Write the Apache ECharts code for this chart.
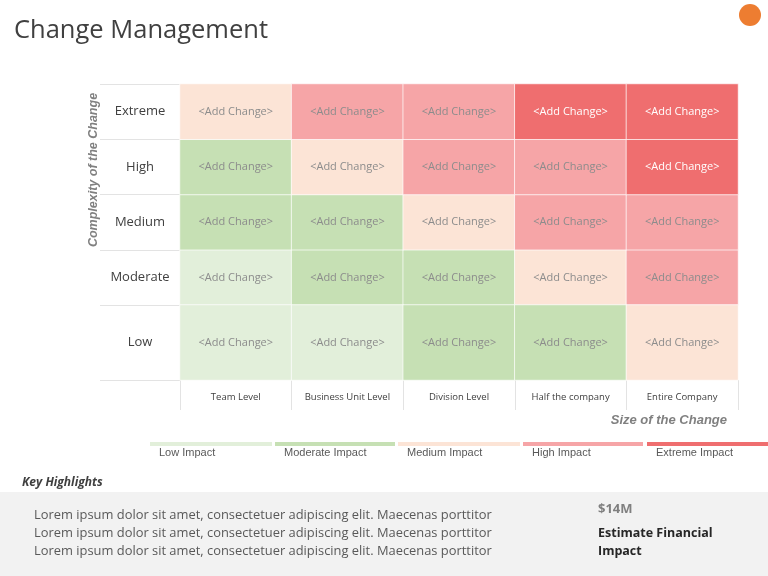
<!DOCTYPE html>
<html>
<head>
<meta charset="utf-8">
<script src="https://cdn.jsdelivr.net/npm/echarts@6/dist/echarts.min.js"></script>
<style>
html,body{margin:0;padding:0;background:#fff;}
#chart{width:768px;height:576px;}
</style>
</head>
<body>
<div id="chart"></div>
<script>
// ---- data ----
var sizeCategories = ['Team Level', 'Business Unit Level', 'Division Level', 'Half the company', 'Entire Company'];
var complexityTop = ['Moderate', 'Medium', 'High', 'Extreme']; // bottom -> top
var complexityLow = ['Low'];
// impact level per cell: 1 Low, 2 Moderate, 3 Medium, 4 High, 5 Extreme
var rowExtreme  = [3, 4, 4, 5, 5];
var rowHigh     = [2, 3, 4, 4, 5];
var rowMedium   = [2, 2, 3, 4, 4];
var rowModerate = [1, 2, 2, 3, 4];
var rowLow      = [1, 1, 2, 2, 3];
var impactLevels = ['Low Impact', 'Moderate Impact', 'Medium Impact', 'High Impact', 'Extreme Impact'];
var cellText = '<Add Change>';
var highlightLines = [
  'Lorem ipsum dolor sit amet, consectetuer adipiscing elit. Maecenas porttitor',
  'Lorem ipsum dolor sit amet, consectetuer adipiscing elit. Maecenas porttitor',
  'Lorem ipsum dolor sit amet, consectetuer adipiscing elit. Maecenas porttitor'
];
var financialValue = '$14M';
var financialLabel = ['Estimate Financial', 'Impact'];

// ---- styling ----
var impactColors = ['#e2efda', '#c6e0b4', '#fce4d6', '#f6a5a7', '#ef6e6f'];
var FONT = 'Open Sans, Noto Sans, sans-serif';

function buildData(rows) {
  var out = [];
  rows.forEach(function (row, yi) {
    row.forEach(function (v, xi) {
      out.push({
        value: [xi, yi, v],
        itemStyle: { color: impactColors[v - 1] },
        label: { color: v === 5 ? '#ffffff' : '#8c8c8c' }
      });
    });
  });
  return out;
}

var topData = buildData([rowModerate, rowMedium, rowHigh, rowExtreme]);
var lowData = buildData([rowLow]);

var chart = echarts.init(document.getElementById('chart'));

var lineCol = '#e3e3e3';
var gridLeft = 180, gridW = 558;

var legendGraphics = [];
var legX = [150, 275, 398, 523, 647];
var legW = [122, 120, 122, 120, 121];
impactLevels.forEach(function (name, i) {
  legendGraphics.push({
    type: 'rect', shape: { x: legX[i], y: 442, width: legW[i], height: 4 },
    style: { fill: impactColors[i] }, silent: true
  });
  legendGraphics.push({
    type: 'text', x: legX[i] + 9, y: 453,
    style: { text: name, fill: '#595959', font: '11px Liberation Sans, Arial, sans-serif', textVerticalAlign: 'middle' }
  });
});

var graphics = [
  { type: 'text', x: 14, y: 31, style: { text: 'Change Management', fill: '#404040', font: '25.5px ' + FONT, textVerticalAlign: 'middle' } },
  { type: 'circle', shape: { cx: 750, cy: 15, r: 11 }, style: { fill: '#ed7d31' } },
  { type: 'text', x: 94, y: 170, rotation: Math.PI / 2,
    style: { text: 'Complexity of the Change', fill: '#808080', font: 'italic bold 12.5px Liberation Sans, Arial, sans-serif', textAlign: 'center', textVerticalAlign: 'middle' } },
  { type: 'text', x: 727, y: 420,
    style: { text: 'Size of the Change', fill: '#808080', font: 'italic bold 13px Liberation Sans, Arial, sans-serif', textAlign: 'right', textVerticalAlign: 'middle' } },
  { type: 'text', x: 22, y: 483,
    style: { text: 'Key Highlights', fill: '#404040', font: 'italic bold 12px ' + FONT, textVerticalAlign: 'middle' } },
  { type: 'rect', shape: { x: 0, y: 492, width: 768, height: 84 }, style: { fill: '#f2f2f2' }, z: -1 },
  { type: 'text', x: 598, y: 509, style: { text: financialValue, fill: '#808080', font: 'bold 13px ' + FONT, textVerticalAlign: 'middle' } },
  { type: 'text', x: 598, y: 533, style: { text: financialLabel[0], fill: '#262626', font: 'bold 12.5px ' + FONT, textVerticalAlign: 'middle' } },
  { type: 'text', x: 598, y: 551, style: { text: financialLabel[1], fill: '#262626', font: 'bold 12.5px ' + FONT, textVerticalAlign: 'middle' } }
];
highlightLines.forEach(function (t, i) {
  graphics.push({ type: 'text', x: 34, y: 515 + i * 18,
    style: { text: t, fill: '#595959', font: '12.9px Open Sans, sans-serif', textVerticalAlign: 'middle' } });
});
graphics = graphics.concat(legendGraphics);

var heatLabel = { show: true, formatter: function () { return cellText; }, fontSize: 11, fontFamily: FONT };
var heatItem = { borderColor: 'rgba(255,255,255,0.7)', borderWidth: 1 };

chart.setOption({
  animation: false,
  backgroundColor: '#ffffff',
  grid: [
    { left: gridLeft, top: 84, width: gridW, height: 221 },
    { left: gridLeft, top: 305, width: gridW, height: 75 }
  ],
  xAxis: [
    { type: 'category', gridIndex: 0, data: sizeCategories, show: false },
    { type: 'category', gridIndex: 1, data: sizeCategories,
      axisLine: { show: false },
      axisTick: { show: true, interval: 0, length: 30, lineStyle: { color: lineCol } },
      axisLabel: { interval: 0, color: '#404040', fontSize: 9.5, fontFamily: FONT, margin: 12, hideOverlap: false } }
  ],
  yAxis: [
    { type: 'category', gridIndex: 0, data: complexityTop,
      axisLine: { show: false },
      axisTick: { show: true, interval: 0, length: 80, lineStyle: { color: lineCol } },
      axisLabel: { interval: 0, color: '#404040', fontSize: 13, fontFamily: FONT, align: 'center', margin: 40 } },
    { type: 'category', gridIndex: 1, data: complexityLow,
      axisLine: { show: false },
      axisTick: { show: true, interval: 0, length: 80, lineStyle: { color: lineCol } },
      axisLabel: { interval: 0, color: '#404040', fontSize: 13, fontFamily: FONT, align: 'center', margin: 40 } }
  ],
  series: [
    { type: 'heatmap', xAxisIndex: 0, yAxisIndex: 0, data: topData, label: heatLabel, itemStyle: heatItem, emphasis: { disabled: true } },
    { type: 'heatmap', xAxisIndex: 1, yAxisIndex: 1, data: lowData, label: heatLabel, itemStyle: heatItem, emphasis: { disabled: true } }
  ],
  graphic: graphics
});
</script>
</body>
</html>
